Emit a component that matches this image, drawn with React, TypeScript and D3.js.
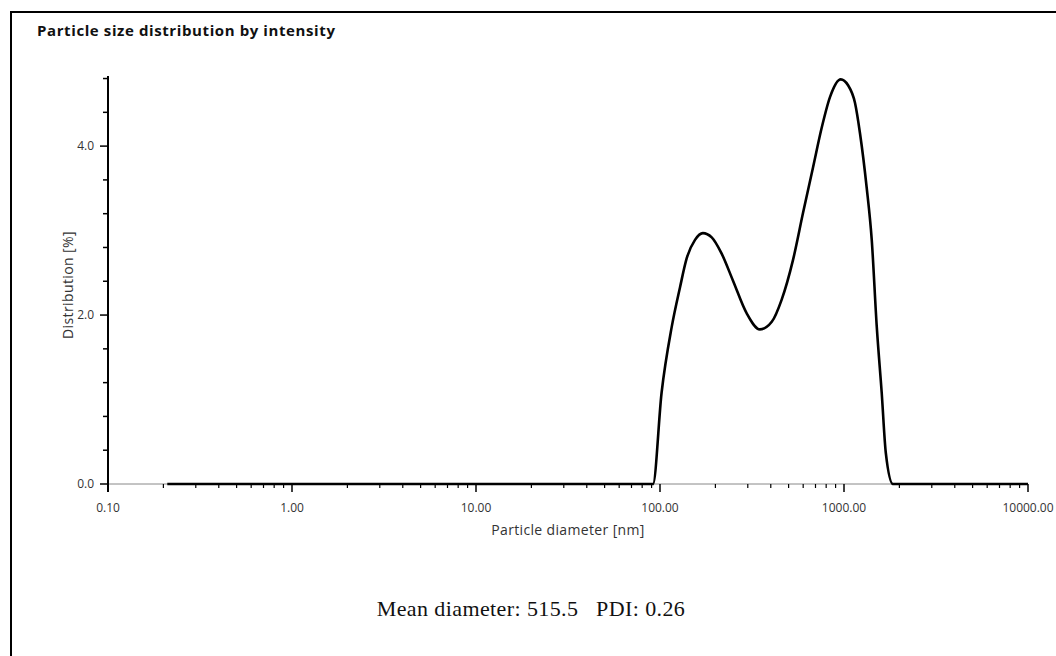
import React from 'react';
import * as d3 from 'd3';

// particle diameter [nm] and intensity distribution [%]
const diameters = [
  0.21, 91.6, 102, 115.8, 128.5, 139.6, 155, 171, 191, 216, 249, 296, 349, 405,
  458, 528, 599, 679, 757, 839, 960, 1052, 1148, 1222, 1328, 1415, 1507, 1603,
  1687, 1845, 10000,
];
const distribution = [
  0, 0, 1.08, 1.86, 2.33, 2.67, 2.89, 2.97, 2.92, 2.73, 2.41, 2.02, 1.83, 1.92,
  2.18, 2.65, 3.21, 3.75, 4.22, 4.58, 4.79, 4.72, 4.51, 4.15, 3.51, 2.89, 1.86,
  1.08, 0.37, 0, 0,
];

const xTickValues = [0.1, 1, 10, 100, 1000, 10000];
const yTickValues = [0, 2, 4];
const yMinorStep = 0.4;
const yMax = 4.83;

const title = 'Particle size distribution by intensity';
const xTitle = 'Particle diameter [nm]';
const yTitle = 'Distribution [%]';
const summary = 'Mean diameter: 515.5\u00a0\u00a0\u00a0PDI: 0.26';

const W = 1056;
const H = 656;
const left = 108;
const right = 1028;
const top = 76;
const bottom = 484;
const sans = '"Open Sans", "Noto Sans", sans-serif';

export default function App() {
  const x = d3.scaleLog().domain([0.1, 10000]).range([left, right]);
  const y = d3.scaleLinear().domain([0, yMax]).range([bottom, top]);

  const points = diameters.map((d, i) => [d, distribution[i]] as [number, number]);
  const line = d3
    .line<[number, number]>()
    .x((d) => x(d[0]))
    .y((d) => y(d[1]))
    .curve(d3.curveMonotoneX);

  // minor log ticks 2..9 in every decade
  const xMinor: number[] = [];
  for (let e = -1; e < 4; e++) {
    for (let m = 2; m <= 9; m++) xMinor.push(m * Math.pow(10, e));
  }
  const yMinor = d3.range(0, yMax, yMinorStep).filter(
    (v) => !yTickValues.some((t) => Math.abs(t - v) < 1e-6)
  );

  return (
    <svg
      width={W}
      height={H}
      style={{ position: 'absolute', left: 0, top: 0, background: '#fff' }}
    >
      {/* frame, runs off the right and bottom of the page */}
      <rect x={11} y={12} width={W + 20} height={H + 20} fill="none" stroke="#000" strokeWidth={2} />

      <text x={37} y={36} fontFamily={sans} fontWeight={700} fontSize={15} letterSpacing={0.6} fill="#111">
        {title}
      </text>

      {/* x axis */}
      <line x1={left} x2={right} y1={bottom} y2={bottom} stroke="#888" strokeWidth={1} />
      {xMinor.map((v) => (
        <line key={'xm' + v} x1={x(v)} x2={x(v)} y1={bottom} y2={bottom + 4} stroke="#000" strokeWidth={1.2} />
      ))}
      {xTickValues.map((v) => (
        <g key={'x' + v}>
          <line x1={x(v)} x2={x(v)} y1={bottom} y2={bottom + 8} stroke="#000" strokeWidth={1.5} />
          <text x={x(v)} y={512} textAnchor="middle" fontFamily={sans} fontSize={12} fill="#333">
            {d3.format('.2f')(v)}
          </text>
        </g>
      ))}
      <text x={568} y={535} textAnchor="middle" fontFamily={sans} fontSize={14} letterSpacing={0.35} fill="#333">
        {xTitle}
      </text>

      {/* y axis */}
      <line x1={left} x2={left} y1={top} y2={bottom + 8} stroke="#000" strokeWidth={2} />
      {yMinor.map((v) => (
        <line key={'ym' + v} x1={left - 5} x2={left} y1={y(v)} y2={y(v)} stroke="#000" strokeWidth={1.5} />
      ))}
      {yTickValues.map((v) => (
        <g key={'y' + v}>
          <line x1={left - 8} x2={left} y1={y(v)} y2={y(v)} stroke="#000" strokeWidth={1.5} />
          <text x={left - 14} y={y(v) + 4} textAnchor="end" fontFamily={sans} fontSize={12} fill="#333">
            {d3.format('.1f')(v)}
          </text>
        </g>
      ))}
      <text
        transform={`translate(73,${285}) rotate(-90)`}
        textAnchor="middle"
        fontFamily={sans}
        fontSize={14}
        letterSpacing={0.4}
        fill="#333"
      >
        {yTitle}
      </text>

      {/* distribution curve */}
      <path d={line(points) ?? ''} fill="none" stroke="#000" strokeWidth={2.6} strokeLinejoin="round" />

      <text
        x={531}
        y={616}
        textAnchor="middle"
        fontFamily='"Liberation Serif", "Times New Roman", serif'
        fontSize={22}
        letterSpacing={0.4}
        fill="#111"
      >
        {summary}
      </text>
    </svg>
  );
}
